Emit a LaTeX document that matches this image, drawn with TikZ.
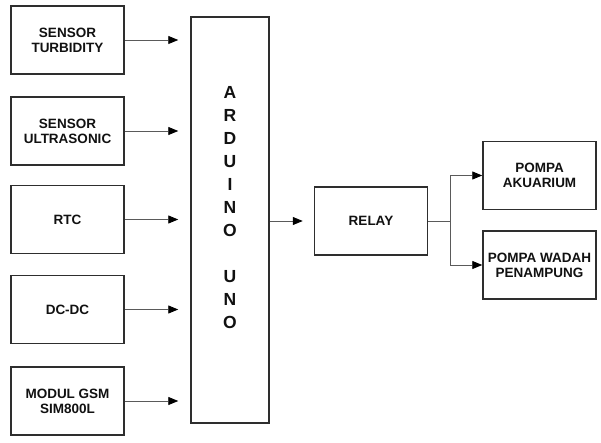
\documentclass[tikz,border=0pt]{standalone}
\usepackage{fontspec}
\setmainfont{Liberation Sans}
\usetikzlibrary{arrows.meta}
\definecolor{ink}{HTML}{111111}
\definecolor{frame}{HTML}{2E2E2E}
\definecolor{wire}{HTML}{5A5A5A}

\begin{document}
\begin{tikzpicture}[x=1pt,y=-1pt,
  block/.style={draw=frame,line width=1.5pt,fill=white,text=ink,
    minimum width=113pt,minimum height=68pt,align=center,inner sep=1pt,
    font=\fontsize{13.5}{15}\selectfont\bfseries},
  board/.style={draw=frame,line width=1.5pt,fill=white,
    minimum width=78pt,minimum height=406pt},
  boardtext/.style={text=ink,align=center,
    font=\fontsize{17.5}{23}\selectfont\bfseries},
  signal/.style={draw=wire,line width=.9pt,
    -{Triangle[length=10pt,width=8pt,color=black]}},
  wireline/.style={draw=wire,line width=.9pt}
]
\useasboundingbox (0,0) rectangle (601,443);

\node[block] (turbidity) at (67.5,40) {SENSOR\\TURBIDITY};
\node[block] (ultrasonic) at (67.5,131) {SENSOR\\ULTRASONIC};
\node[block] (rtc) at (67.5,219.5) {RTC};
\node[block] (dcdc) at (67.5,309.5) {DC-DC};
\node[block] (gsm) at (67.5,401) {MODUL GSM\\SIM800L};

\node[board] (uno) at (230,220) {};
\node[boardtext] (unolabel) at ([yshift=12.5pt]uno.center)
  {A\\R\\D\\U\\I\\N\\O\\[23pt]U\\N\\O};

\node[block] (relay) at (371,221) {RELAY};
\node[block] (akuarium) at (539.5,175.5) {POMPA\\AKUARIUM};
\node[block] (wadah) at (539.5,265) {POMPA WADAH\\PENAMPUNG};

\coordinate (fork) at (450,221);

\foreach \src in {turbidity,ultrasonic,rtc,dcdc,gsm}
  \draw[signal,shorten >=12pt] (\src.east) -- (\src.east -| uno.west);
\draw[signal,shorten >=11pt] (uno.east |- relay.west) -- (relay.west);
\draw[wireline] (relay.east) -- (fork);
\draw[signal] (fork) |- (akuarium.west);
\draw[signal] (fork) |- (wadah.west);
\end{tikzpicture}
\end{document}
